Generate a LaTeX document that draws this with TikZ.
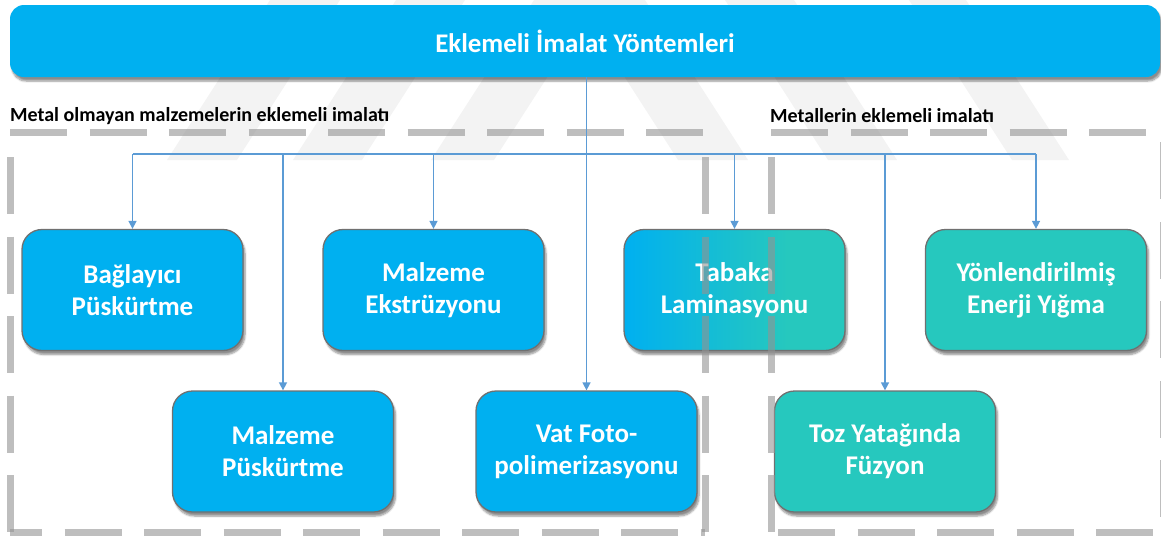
\documentclass[tikz,border=0pt]{standalone}
\usepackage{fontspec}
\setmainfont{Carlito}
\usetikzlibrary{arrows.meta,shadows.blur}
\definecolor{cblue}{HTML}{00B0F0}
\definecolor{cteal}{HTML}{26C8BE}
\definecolor{cline}{HTML}{5B9BD5}
\definecolor{cdash}{HTML}{939393}
\definecolor{cwm}{HTML}{F3F3F3}
\definecolor{cborder}{HTML}{707070}
\pgfdeclarehorizontalshading{tabshade}{100bp}{color(0bp)=(cblue); color(25bp)=(cblue); color(62bp)=(cteal); color(100bp)=(cteal)}
\begin{document}
\begin{tikzpicture}[x=1pt,y=-1pt,
  sh/.style={blur shadow={shadow xshift=2pt, shadow yshift=-4pt, shadow blur steps=6, shadow opacity=45}},
  box/.style={sh, rounded corners=20pt, draw=cborder, line width=1.3pt,
    minimum width=221pt, minimum height=121pt, align=center,
    text=white, font=\fontsize{27}{32}\selectfont\bfseries},
  bluebox/.style={box, fill=cblue},
  tealbox/.style={box, fill=cteal},
  titlebox/.style={sh, rounded corners=14pt, fill=cblue, minimum width=1150pt, minimum height=72pt,
    text=white, font=\fontsize{26.9}{30}\selectfont\bfseries},
  lbl/.style={inner sep=0pt, font=\fontsize{20}{24}\selectfont\bfseries, text=black},
  dashline/.style={draw=cdash, line width=7pt, dash pattern=on 57pt off 22.5pt, opacity=0.6},
  conn/.style={draw=cline, line width=1.5pt},
  arr/.style={conn, -{Triangle[length=8pt,width=8pt]}}
]
\useasboundingbox (0,0) rectangle (1161,536);
% watermark stripes
\begin{scope}[fill=cwm]
  \fill (270,0) -- (340,0) -- (237,160) -- (167,160) -- cycle;
  \fill (396,0) -- (465,0) -- (362,160) -- (293,160) -- cycle;
  \fill (534,0) -- (597,0) -- (494,160) -- (431,160) -- cycle;
  \fill (575,0) -- (645,0) -- (748,160) -- (678,160) -- cycle;
  \fill (725,0) -- (794,0) -- (897,160) -- (828,160) -- cycle;
  \fill (909,0) -- (966,0) -- (1069,160) -- (1012,160) -- cycle;
\end{scope}
% title
\node[titlebox] (title) at (585,41) {Eklemeli İmalat Yöntemleri};
% group labels
\node[lbl, anchor=west] (lnon) at (10,116) {Metal olmayan malzemelerin eklemeli imalatı};
\node[lbl, anchor=west] (lmet) at (770,116) {Metallerin eklemeli imalatı};
% boxes
\node[bluebox] (bag) at (132.5,290) {Bağlayıcı\\Püskürtme};
\node[bluebox] (mp)  at (283,451.5) {Malzeme\\Püskürtme};
\node[bluebox] (ext) at (433.5,290) {Malzeme\\Ekstrüzyonu};
\node[bluebox] (vat) at (586.5,451.5) {Vat Foto-\\polimerizasyonu};
\node[box, shading=tabshade] (tab) at (734.5,290) {Tabaka\\Laminasyonu};
\node[tealbox] (yon) at (1036,290) {Yönlendirilmiş\\Enerji Yığma};
\node[tealbox] (toz) at (885,451.5) {Toz Yatağında\\Füzyon};
% dashed group frames
\draw[dashline] (10,132) -- (705,132);
\draw[dashline] (10,157) -- (10,532);
\draw[dashline] (705,157) -- (705,532);
\draw[dashline, dash phase=25pt] (10,532) -- (705,532);
\draw[dashline] (771,132) -- (1163,132);
\draw[dashline] (771,157) -- (771,532);
\draw[dashline] (1163,142) -- (1163,532);
\draw[dashline, dash phase=72.5pt] (771,532) -- (1163,532);
% connectors
\coordinate (hub) at (588,154);
\draw[arr] (title.south -| vat.north) -- (vat.north);
\draw[conn] (bag.north |- hub) -- (yon.north |- hub);
\draw[arr] (bag.north |- hub) -- (bag.north);
\draw[arr] (mp.north |- hub) -- (mp.north);
\draw[arr] (ext.north |- hub) -- (ext.north);
\draw[arr] (tab.north |- hub) -- (tab.north);
\draw[arr] (toz.north |- hub) -- (toz.north);
\draw[arr] (yon.north |- hub) -- (yon.north);
\end{tikzpicture}
\end{document}
